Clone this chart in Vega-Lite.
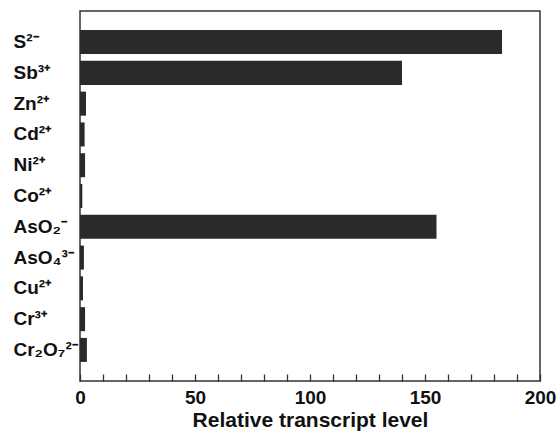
{
  "$schema": "https://vega.github.io/schema/vega-lite/v6.json",
  "width": 460,
  "height": 370,
  "autosize": "none",
  "padding": {"left": 80, "top": 11, "right": 17, "bottom": 51},
  "background": "white",
  "config": {
    "view": {"stroke": "#333333", "strokeWidth": 1.5},
    "font": "Liberation Sans"
  },
  "data": {
    "values": [
      {"ion": "S²⁻", "value": 183.5},
      {"ion": "Sb³⁺", "value": 140},
      {"ion": "Zn²⁺", "value": 2.6},
      {"ion": "Cd²⁺", "value": 2.0},
      {"ion": "Ni²⁺", "value": 2.2},
      {"ion": "Co²⁺", "value": 1.0},
      {"ion": "AsO₂⁻", "value": 155},
      {"ion": "AsO₄³⁻", "value": 1.7},
      {"ion": "Cu²⁺", "value": 1.3},
      {"ion": "Cr³⁺", "value": 2.2},
      {"ion": "Cr₂O₇²⁻", "value": 3.0}
    ]
  },
  "mark": {"type": "bar", "color": "#2a2a2a"},
  "encoding": {
    "y": {
      "field": "ion",
      "type": "nominal",
      "sort": null,
      "scale": {"paddingInner": 0.22, "paddingOuter": 0.62},
      "axis": {
        "title": null,
        "ticks": false,
        "domain": false,
        "labelAlign": "left",
        "labelPadding": 67,
        "labelFont": "Liberation Sans",
        "labelFontWeight": "bold",
        "labelFontSize": 19,
        "labelColor": "#111111"
      }
    },
    "x": {
      "field": "value",
      "type": "quantitative",
      "scale": {"domain": [0, 200], "nice": false},
      "axis": {
        "title": "Relative transcript level",
        "titleFont": "Liberation Sans",
        "titleFontWeight": "bold",
        "titleFontSize": 21,
        "titleColor": "#111111",
        "titlePadding": 2,
        "values": [0,10,20,30,40,50,60,70,80,90,100,110,120,130,140,150,160,170,180,190,200],
        "labelExpr": "datum.value % 50 === 0 ? datum.label : ''",
        "tickSize": -7,
        "tickColor": "#333333",
        "tickWidth": 1.3,
        "domain": false,
        "grid": false,
        "labelPadding": 14,
        "labelFont": "Liberation Sans",
        "labelFontWeight": "bold",
        "labelFontSize": 19,
        "labelColor": "#111111",
        "labelFlush": false,
        "labelOverlap": false,
        "encode": {
          "ticks": {
            "update": {
              "y2": {"signal": "datum.value % 50 === 0 ? -7 : -4"}
            }
          }
        }
      }
    }
  }
}
